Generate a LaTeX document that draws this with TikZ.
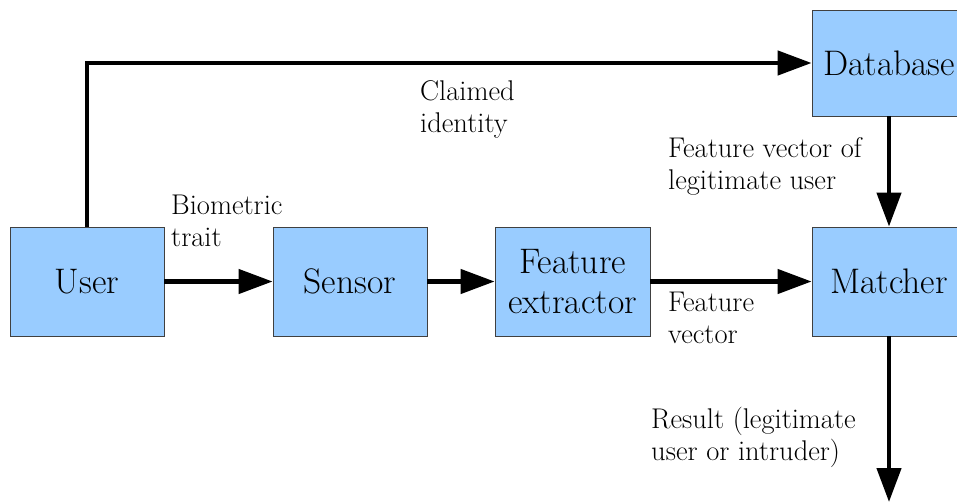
\documentclass[tikz,border=0pt]{standalone}
\usepackage{tikz}
\usetikzlibrary{arrows.meta, positioning}
\definecolor{boxblue}{HTML}{99CCFF}

\begin{document}
\begin{tikzpicture}[x=1pt, y=-1pt]

	\tikzstyle{bloc}=[rectangle, draw=black!75, line width=0.8pt, fill=boxblue, minimum width=154pt, minimum height=109pt, align=center, inner sep=0pt, font=\fontsize{35.5}{40}\selectfont]
	\tikzstyle{lbl}=[anchor=north west, align=left, inner sep=0pt, font=\fontsize{28.5}{32}\selectfont]
	\tikzstyle{arc}=[-{Triangle[length=34pt, width=24pt]}, line width=4.5pt, black]

	\useasboundingbox (0,0) rectangle (957,503);

	% placement des noeuds
	\node[bloc] 	(user) at (87,281.5) 	{User};
	\node[bloc] 	(sensor) at (350,281.5) 	{Sensor};
	\node[bloc, minimum width=155pt] 	(extr) at (572.5,281.5) 	{Feature\\extractor};
	\node[bloc] 	(match) at (889,281.5) 	{Matcher};
	\node[bloc, minimum height=106pt] 	(db) at (889,63) 	{Database};
	\coordinate (out) at (889,502);

	% etiquettes
	\node[lbl] 	(claim) at (420,80) 	{Claimed\\identity};
	\node[lbl] 	(trait) at (171,195) 	{Biometric\\trait};
	\node[lbl] 	(fvleg) at (668,137) 	{Feature vector of\\legitimate user};
	\node[lbl] 	(fv) at (668,292) 	{Feature\\vector};
	\node[lbl] 	(res) at (651,407) 	{Result (legitimate\\user or intruder)};

	% fleches
	\draw[arc] (user.north) |- (db.west) ;
	\draw[arc] (user.east) -- (sensor.west) ;
	\draw[arc] (sensor.east) -- (extr.west) ;
	\draw[arc] (extr.east) -- (match.west) ;
	\draw[arc] (db.south) -- (match.north) ;
	\draw[arc] (match.south) -- (out) ;

\end{tikzpicture}
\end{document}
